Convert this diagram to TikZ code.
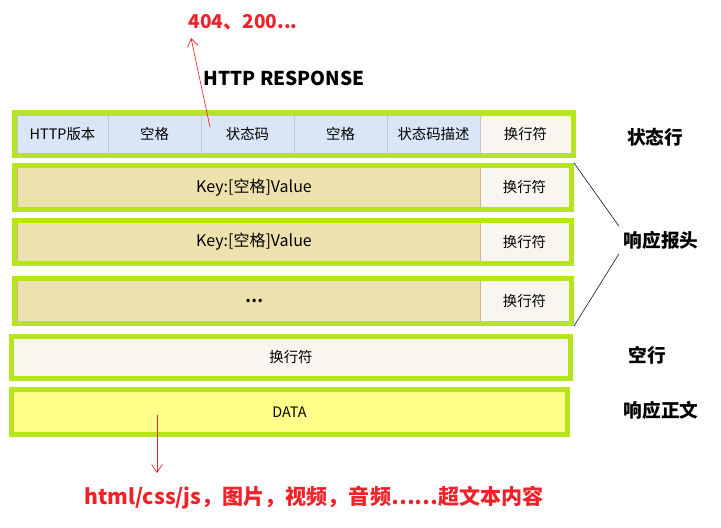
\documentclass[tikz,border=0pt]{standalone}
\usepackage{fontspec}
\setmainfont{Noto Sans CJK SC}
\usetikzlibrary{arrows.meta}

\definecolor{FrameGreen}{HTML}{B5E51D}
\definecolor{CellBlue}{HTML}{D9E6F7}
\definecolor{CellTan}{HTML}{EDE2AE}
\definecolor{CellWhite}{HTML}{F8F6EE}
\definecolor{CellYellow}{HTML}{FFFF8A}
\definecolor{NoteRed}{HTML}{EE2228}

\begin{document}
\begin{tikzpicture}[
          % Environment Config
          x=0.75pt, y=-0.75pt,
          font=\fontsize{10.8}{13}\selectfont,
          Cell/.style 2 args={% Style for one field of a row
            draw=#2,
            line width=0.5pt,
            inner sep=0pt,
            minimum width=#1*0.75pt,
            minimum height=38*0.75pt
          },
          Frame/.style 2 args={% Style for the green row border
            draw=FrameGreen,
            line width=3.75pt,
            inner sep=0pt,
            minimum width=#1*0.75pt,
            minimum height=#2*0.75pt
          },
          Side/.style={% Style for the labels on the right
            font=\fontsize{14}{17}\selectfont\bfseries
          },
          Note/.style={% Style for the red notes
            text=NoteRed,
            font=\fontsize{#1}{18}\selectfont\bfseries
          },
          RedArrow/.style={% Style for the hand drawn arrows
            -{Straight Barb[length=6pt,width=8pt]},
            NoteRed,
            line width=0.5pt
          }
        ]
        \useasboundingbox (0,0) rectangle (721,528);

        %===Status line===
        \node[Cell={91}{gray!45}, fill=CellBlue] (C1) at (62.5,134) {HTTP版本};
        \node[Cell={93}{gray!45}, fill=CellBlue] (C2) at (154.5,134) {空格};
        \node[Cell={93}{gray!45}, fill=CellBlue] (C3) at (247.5,134) {状态码};
        \node[Cell={93}{gray!45}, fill=CellBlue] (C4) at (340.5,134) {空格};
        \node[Cell={93}{gray!45}, fill=CellBlue] (C5) at (433.5,134) {状态码描述};
        \node[Cell={91}{gray!45}, fill=CellWhite] (C6) at (525.5,134) {换行符};
        \node[Frame={559}{43}] (StatusRow) at (294,134) {};

        %===Header lines===
        \foreach \name/\y/\h/\txt in {H1/187.5/44/{Key:[空格]Value},
                                      H2/242/43/{Key:[空格]Value},
                                      H3/301/45/{\textbf{…}}}{
          \node[Cell={463}{brown!60}, minimum height=\h*0.75pt, fill=CellTan] (\name-Key) at (248.5,\y) {};
          \node[font=\fontsize{12}{14}\selectfont] (\name-Txt) at (254,\y) {\txt};
          \node[Cell={89}{brown!60}, minimum height=\h*0.75pt, fill=CellWhite] (\name-CRLF) at (524.5,\y) {换行符};
          \node[Frame={557}{\h}] (\name) at (293,\y) {};
        }

        %===Empty line===
        \node[Frame={559}{42}, fill=CellWhite] (EmptyRow) at (291,357.5) {换行符};

        %===Body===
        \node[Frame={556}{45}, fill=CellYellow] (BodyRow) at (289.5,412) {DATA};

        % Labels on the right
        \node[Side] (StatusLbl) at (655,137) {状态行};
        \node[Side] (HeaderLbl) at (661,240) {响应报头};
        \node[Side] (EmptyLbl) at (647,355) {空行};
        \node[Side] (BodyLbl) at (661,410) {响应正文};

        \draw[line width=0.4pt]
        (H1.north east)
            -- (HeaderLbl.north west)
        (HeaderLbl.south west)
            -- (H3.south east);

        % Titles and notes
        \node[font=\fontsize{14.3}{17}\selectfont\bfseries] (Title) at (284,78) {HTTP RESPONSE};
        \node[Note=14.3] (CodeNote) at (243,22) {404、200...};
        \node[Note=15.8] (BodyNote) at (314,498) {html/css/js，图片，视频，音频……超文本内容};

        %===Arrows===
        \coordinate (CodeTip) at (191,38);
        \coordinate (CodeStart) at (210,127);
        \draw[RedArrow] (CodeStart) -- (CodeTip);

        \coordinate (BodyStart) at (157,415);
        \coordinate (BodyTip) at (157,473);
        \draw[RedArrow] (BodyStart) -- (BodyTip);

        \end{tikzpicture}
\end{document}
